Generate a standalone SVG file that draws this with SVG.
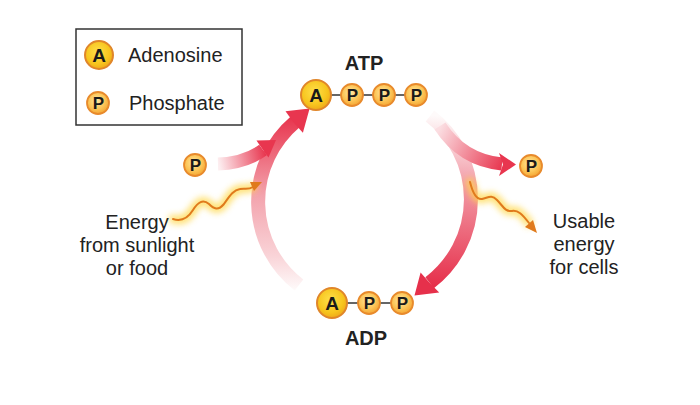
<svg xmlns="http://www.w3.org/2000/svg" width="700" height="405" viewBox="0 0 700 405">
<defs>
<radialGradient id="gA" cx="45%" cy="40%" r="60%"><stop offset="0" stop-color="#ffe04a"/><stop offset="0.7" stop-color="#f7c51e"/><stop offset="1" stop-color="#efaa1a"/></radialGradient>
<radialGradient id="gP" cx="45%" cy="40%" r="60%"><stop offset="0" stop-color="#ffe7a0"/><stop offset="0.6" stop-color="#fcc659"/><stop offset="1" stop-color="#f4a532"/></radialGradient>
<linearGradient id="gL" gradientUnits="userSpaceOnUse" x1="300" y1="290" x2="300" y2="118"><stop offset="0" stop-color="#fefafa"/><stop offset="0.2" stop-color="#f9d3d7"/><stop offset="0.55" stop-color="#f3a3ad"/><stop offset="1" stop-color="#e8364f"/></linearGradient>
<linearGradient id="gR" gradientUnits="userSpaceOnUse" x1="440" y1="116" x2="430" y2="285"><stop offset="0" stop-color="#fefafa"/><stop offset="0.4" stop-color="#f29aa6"/><stop offset="1" stop-color="#e6304b"/></linearGradient>
<linearGradient id="gBL" gradientUnits="userSpaceOnUse" x1="218" y1="160" x2="265" y2="150"><stop offset="0" stop-color="#fdeef0"/><stop offset="1" stop-color="#e8364f"/></linearGradient>
<linearGradient id="gBR" gradientUnits="userSpaceOnUse" x1="440" y1="128" x2="505" y2="163"><stop offset="0" stop-color="#fbdde1"/><stop offset="1" stop-color="#e8364f"/></linearGradient>
<filter id="glow" x="-20%" y="-40%" width="140%" height="180%"><feGaussianBlur stdDeviation="3"/></filter>
</defs>
<style>
.t{font-family:"Liberation Sans",Arial,sans-serif;fill:#222;}
.lbl{font-size:20px;}
.b{font-size:20px;font-weight:bold;text-anchor:middle;}
.ca{fill:url(#gA);stroke:#e0862a;stroke-width:2;}
.cp{fill:url(#gP);stroke:#e88a2c;stroke-width:1.8;}
.la{font-family:"Liberation Sans",Arial,sans-serif;font-weight:bold;text-anchor:middle;fill:#1a1a1a;}
.pa{font-size:17px;}
.aa{font-size:19px;}
.bond{stroke:#333;stroke-width:1.5;}
.wave{fill:none;stroke:#e07a1c;stroke-width:2;stroke-linecap:round;}
.glow{fill:none;stroke:#ffd84a;stroke-width:9;stroke-linecap:round;opacity:0.75;filter:url(#glow);}
.ctr{text-anchor:middle;}
</style>
<rect width="700" height="405" fill="#fff"/>

<g id="legend">
<rect x="76" y="29" width="166" height="96" fill="#fff" stroke="#333" stroke-width="1.5"/>
<circle class="ca" cx="99" cy="55" r="14"/>
<text class="la aa" x="99" y="61.8">A</text>
<text class="t lbl" x="128" y="62">Adenosine</text>
<circle class="cp" cx="98" cy="103" r="11"/>
<text class="la pa" x="98.5" y="109">P</text>
<text class="t lbl" x="129" y="110">Phosphate</text>
</g>

<g id="connectors">
<path d="M 299 285 A 105 105 0 0 1 295 122" fill="none" stroke="url(#gL)" stroke-width="14"/>
<polygon points="309.6,108.6 285.5,111.3 294,123 302.9,132.8" fill="#e8364f"/>
<path d="M 430 116 A 105 105 0 0 1 429.6 282.7" fill="none" stroke="url(#gR)" stroke-width="14"/>
<polygon points="414.5,295.5 420.6,272.4 429.6,282.7 439.2,292.5" fill="#e6304b"/>
<path d="M 218 164 Q 245 163 263 150" fill="none" stroke="url(#gBL)" stroke-width="13"/>
<polygon points="276,140 256.5,140.5 263,150 268.5,157.5" fill="#e8364f"/>
<path d="M 440 126 Q 462 160 502 164" fill="none" stroke="url(#gBR)" stroke-width="13"/>
<polygon points="516,164.5 499,153 503,164.5 499,176" fill="#e8364f"/>

<path class="glow" d="M173,219 C182,222 188,218 193,210 C198,202 203,199 209,204 C214,209 218,211 224,204 C229,197 233,190 240,189 C245,188 248,190 253,187"/>
<path class="wave" d="M173,219 C182,222 188,218 193,210 C198,202 203,199 209,204 C214,209 218,211 224,204 C229,197 233,190 240,189 C245,188 248,190 253,187"/>
<polygon points="262,182 250,182 254,191" fill="#e07a1c"/>
<path class="glow" d="M470,182 C472,190 476,200 482,199 C488,198 491,194 497,200 C503,206 505,212 512,211 C518,210 522,214 529,223"/>
<path class="wave" d="M470,182 C472,190 476,200 482,199 C488,198 491,194 497,200 C503,206 505,212 512,211 C518,210 522,214 529,223"/>
<polygon points="537,233 525,227 533,220" fill="#e07a1c"/>
</g>

<g id="atp">
<text class="t b" x="364" y="70">ATP</text>
<line class="bond" x1="325" y1="95" x2="412" y2="95"/>
<circle class="ca" cx="316" cy="95" r="15"/>
<text class="la aa" x="316" y="101.8">A</text>
<circle class="cp" cx="352" cy="95" r="11"/>
<text class="la pa" x="352.5" y="101">P</text>
<circle class="cp" cx="384" cy="95" r="11"/>
<text class="la pa" x="384.5" y="101">P</text>
<circle class="cp" cx="416" cy="95" r="11"/>
<text class="la pa" x="416.5" y="101">P</text>
</g>

<g id="adp">
<line class="bond" x1="340" y1="303" x2="400" y2="303"/>
<circle class="ca" cx="332" cy="303" r="15"/>
<text class="la aa" x="332" y="309.8">A</text>
<circle class="cp" cx="369" cy="303" r="11"/>
<text class="la pa" x="369.5" y="309">P</text>
<circle class="cp" cx="402" cy="303" r="11"/>
<text class="la pa" x="402.5" y="309">P</text>
<text class="t b" x="366" y="345">ADP</text>
</g>

<g id="p-in">
<circle class="cp" cx="195" cy="165" r="11"/>
<text class="la pa" x="195.5" y="171">P</text>
</g>

<g id="p-out">
<circle class="cp" cx="531" cy="166" r="11"/>
<text class="la pa" x="531.5" y="172">P</text>
</g>

<g id="energy-in">
<text class="t lbl ctr" x="137" y="229">Energy</text>
<text class="t lbl ctr" x="137" y="252">from sunlight</text>
<text class="t lbl ctr" x="137" y="275">or food</text>
</g>

<g id="energy-out">
<text class="t lbl ctr" x="584" y="228">Usable</text>
<text class="t lbl ctr" x="584" y="251">energy</text>
<text class="t lbl ctr" x="584" y="274">for cells</text>
</g>
</svg>
